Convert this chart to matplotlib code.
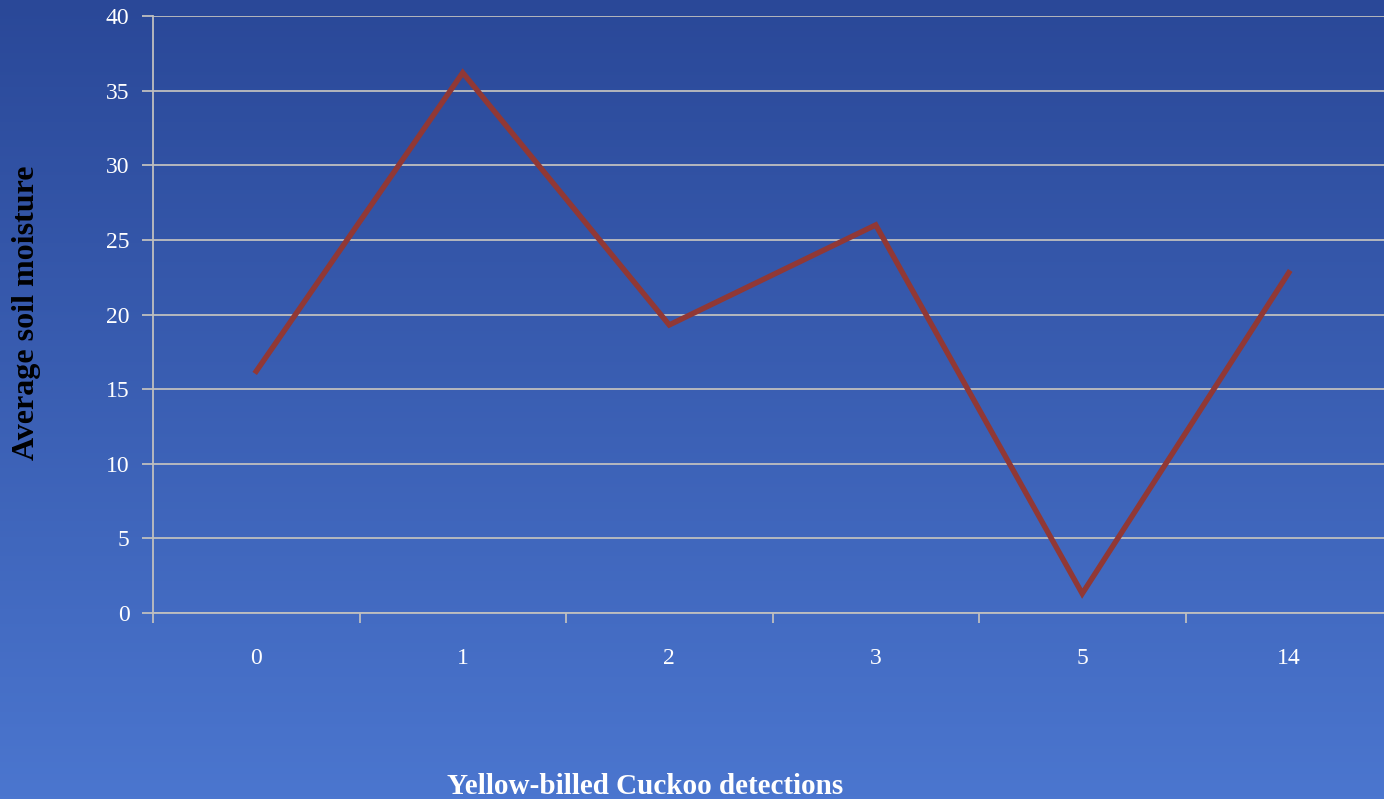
import numpy as np
import matplotlib.pyplot as plt

categories = ['0', '1', '2', '3', '5', '14']
moisture = [16.2, 36.2, 19.3, 26.0, 1.3, 22.8]
yticks = [0, 5, 10, 15, 20, 25, 30, 35, 40]

W, H = 1384, 799
fig = plt.figure(figsize=(W / 100, H / 100), dpi=100)

# gradient background
bg = fig.add_axes([0, 0, 1, 1], zorder=0)
top = np.array([0x2A, 0x48, 0x98]) / 255
bot = np.array([0x4B, 0x76, 0xCF]) / 255
t = np.linspace(0, 1, 256)[:, None]
grad = top[None, :] * (1 - t) + bot[None, :] * t
bg.imshow(grad[:, None, :].repeat(2, axis=1), aspect='auto', extent=[0, 1, 0, 1])
bg.axis('off')

left, right, top_y, bot_y = 153, 1392, 16, 613
ax = fig.add_axes([left / W, 1 - bot_y / H, (right - left) / W, (bot_y - top_y) / H], zorder=1)
ax.patch.set_alpha(0)

x = np.arange(len(categories))
ax.plot(x, moisture, color='#913835', lw=3.9, solid_joinstyle='miter', zorder=3)

ax.set_xlim(-0.5, len(categories) - 0.5)
ax.set_ylim(0, 40)
ax.set_yticks(yticks)
ax.yaxis.grid(True, color='#BFBFBF', lw=1.3)
ax.set_axisbelow(True)

for s in ['top', 'right']:
    ax.spines[s].set_visible(False)
for s in ['left', 'bottom']:
    ax.spines[s].set_color('#BFBFBF')
    ax.spines[s].set_linewidth(1.3)

ax.set_xticks(np.arange(len(categories) + 1) - 0.5, minor=False)
ax.set_xticklabels([])
ax.set_xticks(x, minor=True)
ax.set_xticklabels(categories, minor=True)
ax.tick_params(axis='x', which='major', length=7, width=1.3, color='#BFBFBF')
ax.tick_params(axis='x', which='minor', length=0, pad=25, labelsize=17, labelcolor='white')
ax.tick_params(axis='y', length=8, width=1.3, color='#BFBFBF', labelsize=17,
               labelcolor='white', pad=9)
for lab in ax.get_yticklabels() + ax.get_xticklabels(minor=True):
    lab.set_family('Liberation Serif')

fig.text(645 / W, 1 - 786 / H, 'Yellow-billed Cuckoo detections', ha='center', va='center',
         color='white', fontsize=21, fontweight='bold', family='Liberation Serif')
fig.text(27 / W, 1 - 313 / H, 'Average soil moisture', ha='center', va='center',
         rotation=90, color='black', fontsize=23, fontweight='bold', family='Liberation Serif')

fig.savefig('out.png', dpi=100)
